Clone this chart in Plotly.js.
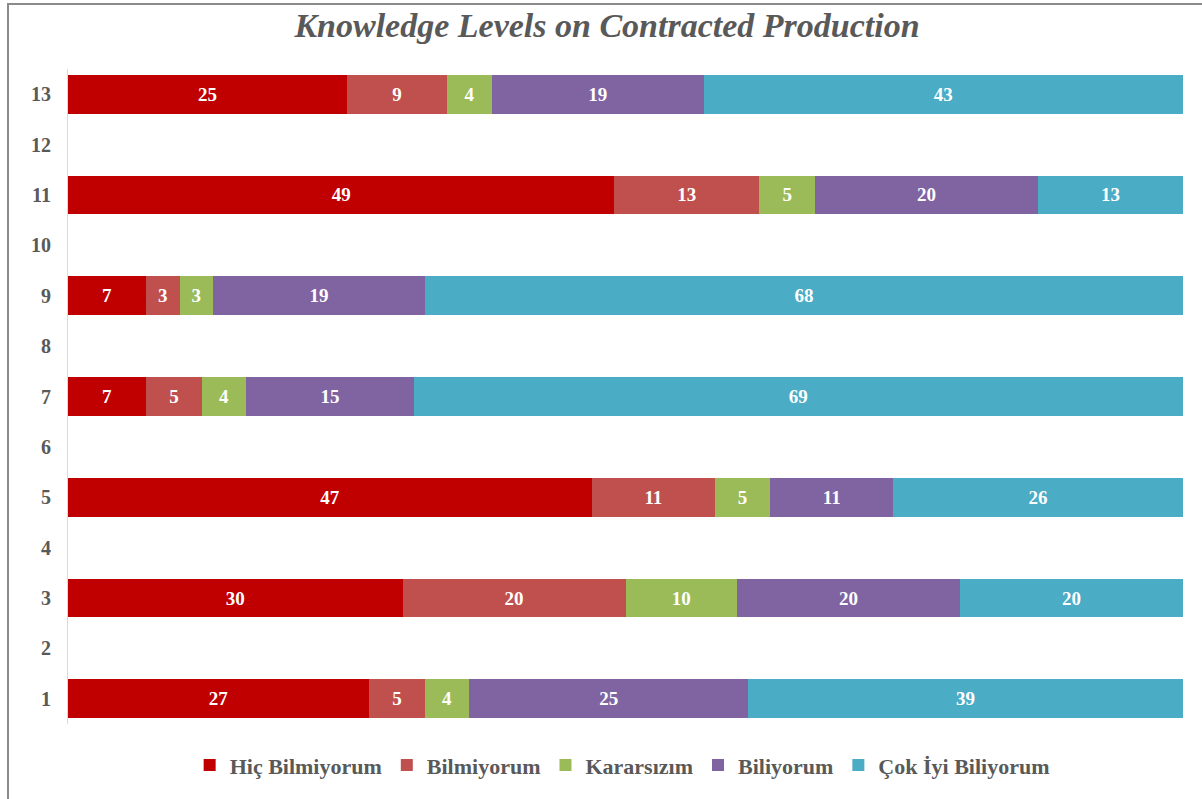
<!DOCTYPE html>
<html>
<head>
<meta charset="utf-8">
<script src="https://cdn.plot.ly/plotly-3.0.1.min.js"></script>
<style>
  html, body { margin: 0; padding: 0; background: #ffffff; }
  #wrap { position: relative; width: 1202px; height: 799px; }
  #chart { position: absolute; left: 0; top: 0; width: 1202px; height: 799px; }
  #frame { position: absolute; left: 7px; top: 3px; width: 1200px; height: 800px;
           border-left: 2px solid #8a8a8a; border-top: 2px solid #8a8a8a; pointer-events: none; }
</style>
</head>
<body>
<div id="wrap">
  <div id="chart"></div>
  <div id="frame"></div>
</div>
<script>
// ---- data ----
var rows = [1, 3, 5, 7, 9, 11, 13];
var tickLabels = ["1","2","3","4","5","6","7","8","9","10","11","12","13"];
var seriesNames = ["Hiç Bilmiyorum", "Bilmiyorum", "Kararsızım", "Biliyorum", "Çok İyi Biliyorum"];
var hicBilmiyorum   = [27, 30, 47, 7, 7, 49, 25];
var bilmiyorum      = [5, 20, 11, 5, 3, 13, 9];
var kararsizim      = [4, 10, 5, 4, 3, 5, 4];
var biliyorum       = [25, 20, 11, 15, 19, 20, 19];
var cokIyiBiliyorum = [39, 20, 26, 69, 68, 13, 43];
var seriesColors = ["#C00000", "#C0504D", "#9BBB59", "#8064A2", "#4BACC6"];

var seriesValues = [hicBilmiyorum, bilmiyorum, kararsizim, biliyorum, cokIyiBiliyorum];
var serif = "Liberation Serif, DejaVu Serif, serif";

var traces = seriesValues.map(function (vals, i) {
  return {
    type: "bar",
    orientation: "h",
    name: seriesNames[i],
    x: vals,
    y: rows,
    width: 0.77,
    marker: { color: seriesColors[i], line: { width: 0 } },
    text: vals.map(String),
    textposition: "inside",
    insidetextanchor: "middle",
    textangle: 0,
    textfont: { family: serif, size: 19, color: "#ffffff", weight: "bold" },
    hoverinfo: "name+x"
  };
});

var layout = {
  width: 1202,
  height: 799,
  barmode: "stack",
  paper_bgcolor: "#ffffff",
  plot_bgcolor: "#ffffff",
  margin: { l: 68, r: 19, t: 69, b: 75 },
  title: {
    text: "<b><i>Knowledge Levels on Contracted Production</i></b>",
    font: { family: serif, size: 34, color: "#595959" },
    x: 0.505, xanchor: "center",
    y: 0.968, yanchor: "middle"
  },
  xaxis: {
    range: [0, 100],
    showgrid: false, zeroline: false, showline: false,
    showticklabels: false, ticks: ""
  },
  yaxis: {
    range: [0.5, 13.5],
    tickmode: "array",
    tickvals: tickLabels.map(Number),
    ticktext: tickLabels,
    showgrid: false, zeroline: false,
    showline: true, linecolor: "#d9d9d9", linewidth: 1,
    ticks: "outside", ticklen: 12, tickcolor: "rgba(0,0,0,0)",
    tickfont: { family: serif, size: 20, color: "#595959", weight: "bold" }
  },
  showlegend: true,
  legend: {
    orientation: "h",
    x: 0.497, xanchor: "center",
    y: -0.063, yanchor: "middle",
    traceorder: "normal",
    itemwidth: 30,
    font: { family: serif, size: 22, color: "#595959", weight: "bold" },
    itemclick: false
  },
  bargap: 0.23
};

Plotly.newPlot("chart", traces, layout, { displayModeBar: false, staticPlot: true });
</script>
</body>
</html>
